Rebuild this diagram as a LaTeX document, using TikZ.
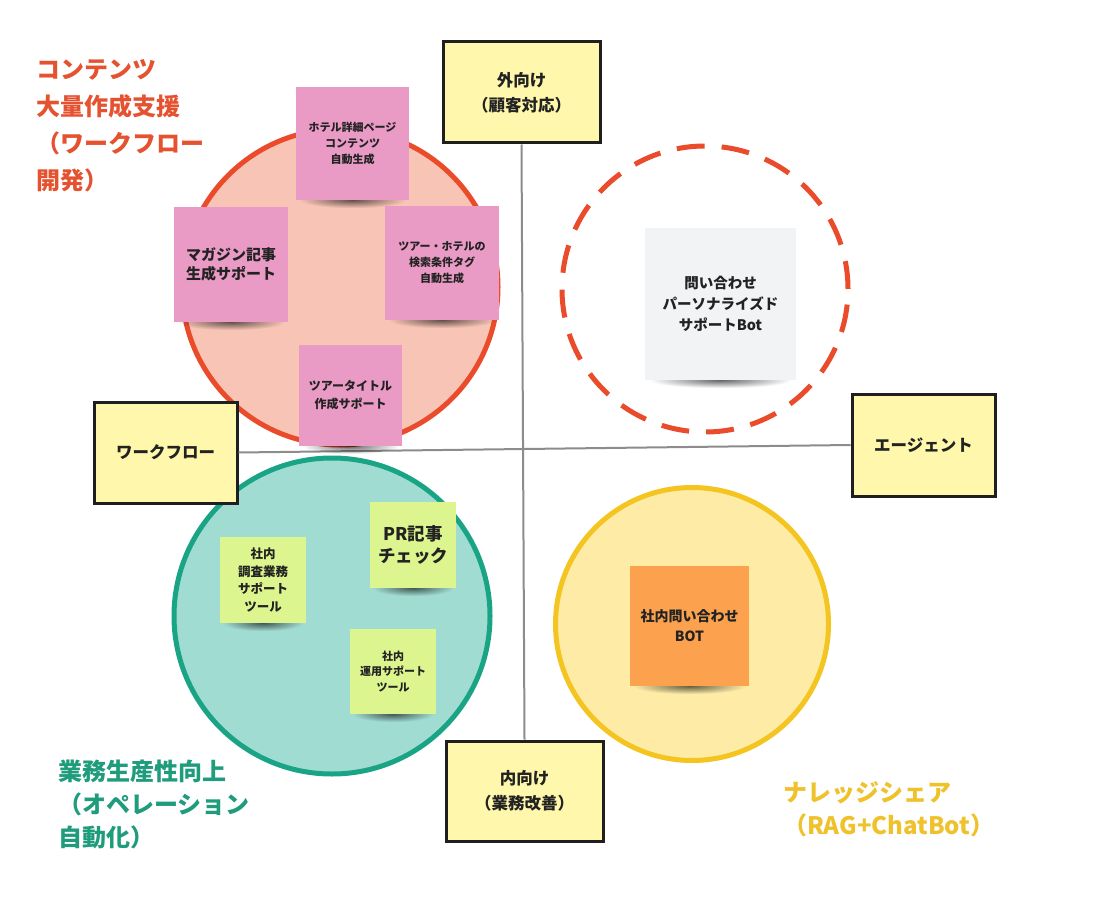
\documentclass[tikz,border=0pt]{standalone}
\usepackage{fontspec}
\setmainfont{Noto Sans CJK JP}
\usetikzlibrary{fadings}
\definecolor{redline}{HTML}{E94B2B}
\definecolor{redfill}{HTML}{F8C4B6}
\definecolor{pinknote}{HTML}{E99AC5}
\definecolor{tealline}{HTML}{1AA486}
\definecolor{tealfill}{HTML}{A1DCD2}
\definecolor{greennote}{HTML}{DDF58F}
\definecolor{yelline}{HTML}{F4C520}
\definecolor{yelfill}{HTML}{FDEBA6}
\definecolor{orangenote}{HTML}{FCA24E}
\definecolor{whitenote}{HTML}{F2F3F5}
\definecolor{axisfill}{HTML}{FFF7AB}
\definecolor{redtext}{HTML}{E5522F}
\definecolor{tealtext}{HTML}{1F9C7C}
\definecolor{yeltext}{HTML}{EFC12A}
\definecolor{notetext}{HTML}{222222}
\tikzfading[name=fuzzyshadow, inner color=transparent!0, outer color=transparent!100]
\tikzset{
  axisbox/.style={draw=black!88, line width=3pt, fill=axisfill, align=center, inner sep=0pt,
    font=\bfseries\fontsize{16.5}{25}\selectfont, text=notetext},
  sticky/.style={inner sep=0pt, align=center, text=notetext},
  bigcircle/.style={circle, inner sep=0pt, line width=5pt},
  axisline/.style={draw=black!45, line width=2pt},
  grouplabel/.style={anchor=west, align=left, inner sep=0pt, font=\bfseries}
}
\newcommand\stickynote[9]{%
  \fill[black, opacity=0.6, path fading=fuzzyshadow] ({#2-0.47*#4},{#3+0.5*#5-8}) rectangle ({#2+0.47*#4},{#3+0.5*#5+8});
  \node[sticky, fill=#6, minimum width=#4, minimum height=#5, font=\bfseries\fontsize{#7}{#8}\selectfont] (#1) at (#2,#3) {#9};
}
\begin{document}
\begin{tikzpicture}[x=1pt,y=-1pt]
\useasboundingbox[fill=white] (0,0) rectangle (1105,904);

% circles
\node[bigcircle, draw=redline, fill=redfill, minimum size=316] (cRed) at (340,287) {};
\node[bigcircle, draw=redline, dash pattern=on 28pt off 17pt, minimum size=286] (cDash) at (705,289) {};
\node[bigcircle, draw=tealline, fill=tealfill, minimum size=316] (cTeal) at (332,616) {};
\node[bigcircle, draw=yelline, fill=yelfill, minimum size=273] (cYel) at (692,624) {};

% axis boxes
\node[axisbox, minimum width=157, minimum height=101] (outward) at (521.5,92.5) {外向け\\（顧客対応）};
\node[axisbox, minimum width=157, minimum height=100] (inward) at (524.5,791) {内向け\\（業務改善）};
\node[axisbox, minimum width=143, minimum height=101] (workflow) at (165.5,452.5) {ワークフロー};
\node[axisbox, minimum width=143, minimum height=102] (agent) at (923.5,445) {エージェント};

% axes
\draw[axisline] (outward.south) -- (inward.north);
\draw[axisline] (workflow.east) -- (agent.west);

% sticky notes
\stickynote{hotel}{352.5}{143.5}{113}{113}{pinknote}{11}{16}{ホテル詳細ページ\\コンテンツ\\自動生成}
\stickynote{magazine}{231}{264.5}{114}{115}{pinknote}{15}{19.5}{マガジン記事\\生成サポート}
\stickynote{tourtag}{442}{263}{114}{114}{pinknote}{11}{16}{ツアー・ホテルの\\検索条件タグ\\自動生成}
\stickynote{tourtitle}{350.5}{395.5}{103}{101}{pinknote}{12}{18}{ツアータイトル\\作成サポート}
\stickynote{inquiry}{720.5}{304}{151}{152}{whitenote}{14.5}{21}{問い合わせ\\パーソナライズド\\サポートBot}
\stickynote{survey}{263}{580}{86}{86}{greennote}{12.5}{17.5}{社内\\調査業務\\サポート\\ツール}
\stickynote{prcheck}{413}{545}{86}{86}{greennote}{17.5}{22}{PR記事\\チェック}
\stickynote{ops}{393}{671.5}{86}{85}{greennote}{11}{15.5}{社内\\運用サポート\\ツール}
\stickynote{bot}{689.5}{626}{119}{120}{orangenote}{14}{20}{社内問い合わせ\\BOT}

% group labels
\node[grouplabel, text=redtext, font=\bfseries\fontsize{24}{37}\selectfont] (lblRed) at (36,125.5) {コンテンツ\\大量作成支援\\（ワークフロー\\開発）};
\node[grouplabel, text=tealtext, font=\bfseries\fontsize{24}{33}\selectfont] (lblTeal) at (58,804.5) {業務生産性向上\\（オペレーション\\自動化）};
\node[grouplabel, text=yeltext, font=\bfseries\fontsize{24}{33}\selectfont] (lblYel) at (783,809) {ナレッジシェア\\（RAG+ChatBot）};
\end{tikzpicture}
\end{document}
